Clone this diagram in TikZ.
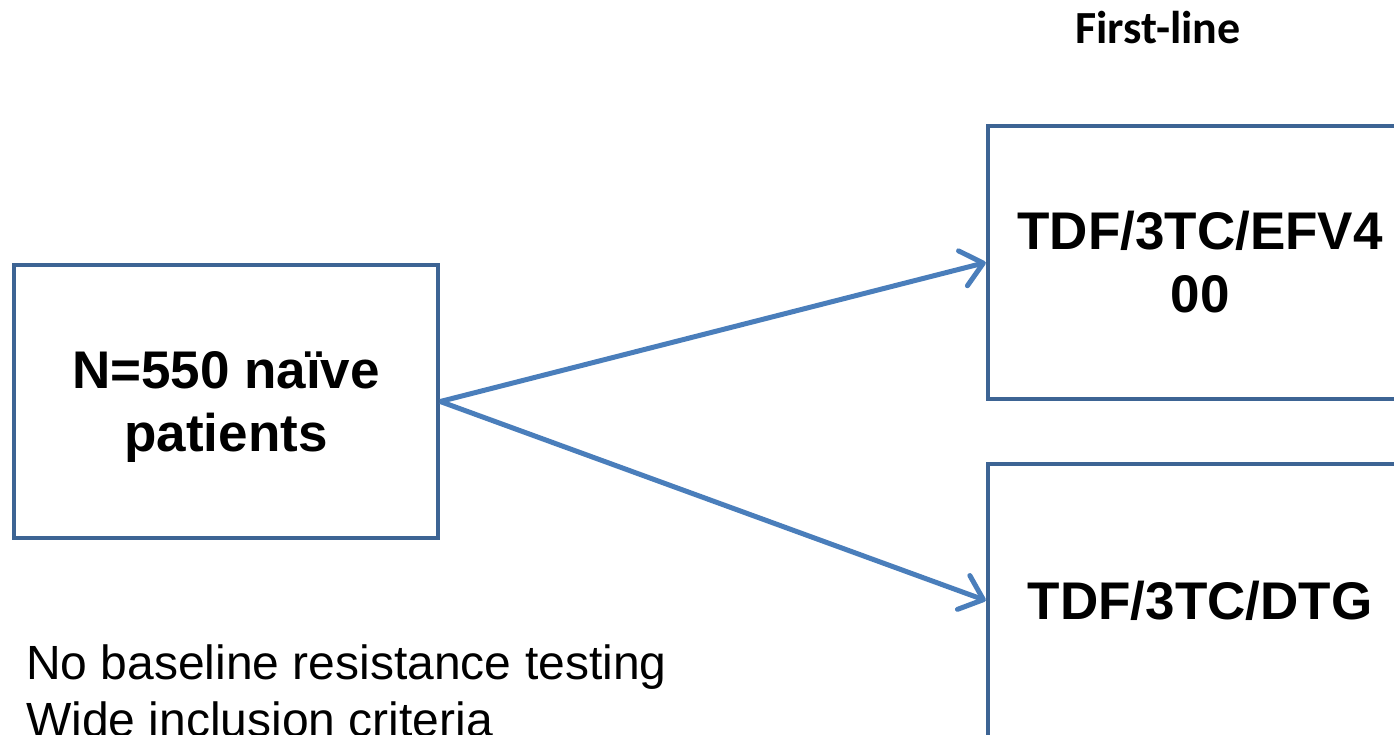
\documentclass[tikz,border=0pt]{standalone}
\usepackage{fontspec}
\setmainfont{Liberation Sans}
\newfontfamily\calib{Carlito}
\usetikzlibrary{arrows.meta}
\definecolor{boxblue}{HTML}{3D6494}
\definecolor{arrblue}{HTML}{4A7EBB}
\tikzset{
  box/.style={draw=boxblue, line width=4.5pt, minimum width=424pt, minimum height=273pt,
    inner sep=0pt},
  boxtext/.style={inner sep=0pt, align=center, font=\bfseries\fontsize{53}{63}\selectfont},
  arr/.style={draw=arrblue, line width=5pt,
    -{Straight Barb[length=21pt,width=36pt,round]}},
  note/.style={inner sep=0pt, align=left, font=\fontsize{48}{57}\selectfont}
}
\begin{document}
\begin{tikzpicture}[x=1pt,y=-1pt]
\useasboundingbox (0,0) rectangle (1394,734);
\clip (0,0) rectangle (1394,734);
\fill[white] (0,0) rectangle (1394,734);
\node[box] (pat) at (226,401.5) {};
\node[box] (efv) at (1200,262.5) {};
\node[box] (dtg) at (1200,600.5) {};
\node[boxtext] (pattext) at ([yshift=-5pt]pat.center) {N=550 naïve\\patients};
\node[boxtext] (efvtext) at (efv.center) {TDF/3TC/EFV4\\00};
\node[boxtext] (dtgtext) at (dtg.center) {TDF/3TC/DTG};
\node[anchor=base, inner sep=0pt, font=\calib\bfseries\fontsize{46}{50}\selectfont] (fl) at (1158,43) {First-line};
\node[note, anchor=north west] (nt) at (26,645) {No baseline resistance testing\\Wide inclusion criteria};
\draw[arr] (pat.east) -- (efv.west);
\draw[arr] (pat.east) -- (dtg.west);
\end{tikzpicture}
\end{document}
